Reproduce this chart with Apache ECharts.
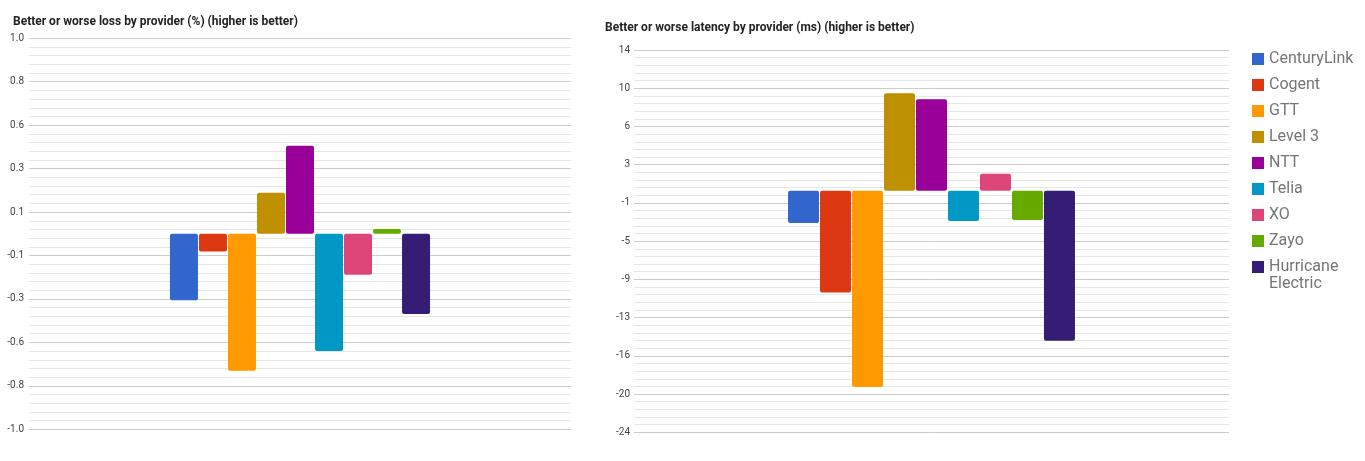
<!DOCTYPE html>
<html>
<head>
<meta charset="utf-8">
<script src="https://cdn.jsdelivr.net/npm/echarts@6/dist/echarts.min.js"></script>
<style>
html,body{margin:0;padding:0;background:#fff;}
#c{width:1365px;height:461px;}
</style>
</head>
<body>
<div id="c"></div>
<script>
var providers = ['CenturyLink','Cogent','GTT','Level 3','NTT','Telia','XO','Zayo','Hurricane Electric'];
var colors = ['#3366cc','#dc3912','#ff9900','#bf9000','#990099','#0099c6','#dd4477','#66aa00','#351c75'];
var lossValues = [-0.34, -0.09, -0.70, 0.21, 0.45, -0.60, -0.21, 0.025, -0.41];
var latencyValues = [-3.2, -10.1, -19.5, 9.7, 9.1, -3.0, 1.7, -2.9, -14.9];
var lossTicks = ['-1.0','-0.8','-0.6','-0.3','-0.1','0.1','0.3','0.6','0.8','1.0'];
var latencyTicks = ['-24','-20','-16','-13','-9','-5','-1','3','6','10','14'];
var lossRange = [-1, 1];
var latencyRange = [-24, 14];
var titles = ['Better or worse loss by provider (%) (higher is better)', 'Better or worse latency by provider (ms) (higher is better)'];

var FONT = 'Roboto, "Noto Sans", sans-serif';
var chart = echarts.init(document.getElementById('c'), null, {renderer:'canvas'});

function tickAxis(gridIndex, ticks, margin){
  return {
    type:'value', gridIndex:gridIndex, position:'left',
    min:0, max:ticks.length-1, interval:1,
    axisLine:{show:false}, axisTick:{show:false},
    axisLabel:{color:'#444', fontSize:10, fontFamily:FONT, margin:margin,
      formatter:function(v){ return ticks[Math.round(v)]; }},
    splitLine:{show:true, lineStyle:{color:'#cccccc', width:1}},
    minorTick:{show:false, splitNumber:5},
    minorSplitLine:{show:true, lineStyle:{color:'#e6e6e6', width:1}}
  };
}
function dataAxis(gridIndex, range){
  return {type:'value', gridIndex:gridIndex, position:'right', min:range[0], max:range[1], show:false,
    splitLine:{show:false}};
}

var series = [];
providers.forEach(function(p, i){
  series.push({
    type:'bar', name:p, xAxisIndex:0, yAxisIndex:1,
    data:[lossValues[i]], barWidth:28, barGap:'3.6%',
    itemStyle:{color:colors[i], borderRadius:2},
    animation:false
  });
});
providers.forEach(function(p, i){
  series.push({
    type:'bar', name:p, xAxisIndex:1, yAxisIndex:3,
    data:[latencyValues[i]], barWidth:31, barGap:'3.2%',
    itemStyle:{color:colors[i], borderRadius:2},
    animation:false
  });
});

var legendBase = {
  orient:'vertical', left:1247,
  itemWidth:12, itemHeight:12, itemGap:10,
  icon:'rect', selectedMode:false,
  textStyle:{fontFamily:FONT, fontSize:16, color:'#757575'}
};

chart.setOption({
  backgroundColor:'#fff',
  animation:false,
  title:[
    {text:titles[0], left:8, top:11, textStyle:{fontFamily:FONT, fontSize:12, fontWeight:'bold', color:'#222'}},
    {text:titles[1], left:600, top:17, textStyle:{fontFamily:FONT, fontSize:12, fontWeight:'bold', color:'#222'}}
  ],
  legend:[
    Object.assign({}, legendBase, {top:46, data:providers.slice(0, 8)}),
    Object.assign({}, legendBase, {top:236.5, data:providers.slice(8),
      textStyle:{fontFamily:FONT, fontSize:16, color:'#757575', lineHeight:17},
      formatter:function(n){ return ' \n' + n.replace(' ', '\n'); }})
  ],
  grid:[
    {left:29, top:38.3, width:542, height:391},
    {left:634, top:50, width:595, height:382.3}
  ],
  xAxis:[
    {type:'category', gridIndex:0, data:[''], show:false},
    {type:'category', gridIndex:1, data:[''], show:false}
  ],
  yAxis:[
    tickAxis(0, lossTicks, 5),
    dataAxis(0, lossRange),
    tickAxis(1, latencyTicks, 4),
    dataAxis(1, latencyRange)
  ],
  series:series
});
</script>
</body>
</html>
